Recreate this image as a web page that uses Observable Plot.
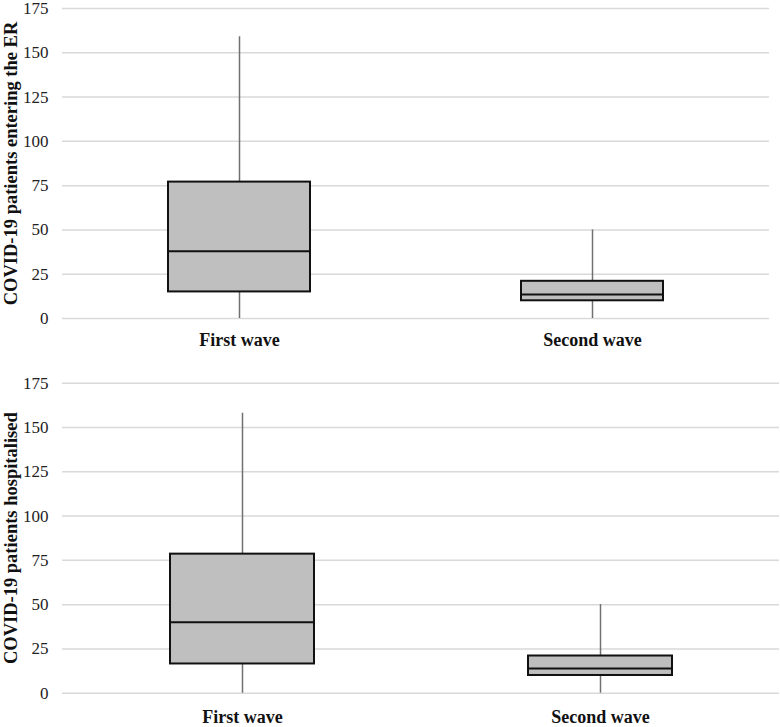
<!DOCTYPE html>
<html>
<head>
<meta charset="utf-8">
<script src="https://cdn.jsdelivr.net/npm/d3@7"></script>
<script src="https://cdn.jsdelivr.net/npm/@observablehq/plot@0.6"></script>
<style>
  html, body { margin: 0; padding: 0; background: #fff; }
  #chart svg { display: block; }
</style>
</head>
<body>
<div id="chart"></div>
<script>
const categories = ["First wave", "Second wave"];
const yTicks = [0, 25, 50, 75, 100, 125, 150, 175];

// Panel 1: COVID-19 patients entering the ER
const erMin = [0, 0];
const erQ1 = [15, 10];
const erMedian = [38, 13.5];
const erQ3 = [77, 21];
const erMax = [159, 50];

// Panel 2: COVID-19 patients hospitalised
const hospMin = [0, 0];
const hospQ1 = [16.5, 10];
const hospMedian = [40, 14];
const hospQ3 = [78.5, 21];
const hospMax = [158, 50];

const font = "'Liberation Serif', 'Times New Roman', serif";

function panel(label, mins, q1s, meds, q3s, maxs, opts) {
  const rows = categories.map((c, i) => ({
    cat: c, min: mins[i], q1: q1s[i], med: meds[i], q3: q3s[i], max: maxs[i]
  }));
  return Plot.plot({
    width: 780,
    height: opts.height,
    marginLeft: 62,
    marginRight: opts.marginRight,
    marginTop: opts.marginTop,
    marginBottom: opts.marginBottom,
    style: { fontFamily: font, background: "#fff", overflow: "visible" },
    x: { domain: categories, paddingInner: 0.598, paddingOuter: 0.299, label: null },
    y: { domain: [0, 175], label: null },
    marks: [
      Plot.ruleY(yTicks, { stroke: "#d9d9d9", strokeWidth: 1.5 }),
      Plot.axisY({ ticks: yTicks, tickSize: 0, tickPadding: 14, fontSize: 17, fill: "#222", label: null }),
      Plot.axisX({ tickSize: 0, tickPadding: opts.xPad, fontSize: 18, fontWeight: "bold", fill: "#111", label: null }),
      Plot.text([label], {
        frameAnchor: "left", dx: -51, rotate: -90, fontSize: 18.5, fontWeight: "bold", fill: "#111", textAnchor: "middle"
      }),
      Plot.ruleX(rows, { x: "cat", y1: "min", y2: "max", stroke: "#707070", strokeWidth: 1.5 }),
      Plot.barY(rows, { x: "cat", y1: "q1", y2: "q3", fill: "#bfbfbf", stroke: "#111", strokeWidth: 2 }),
      Plot.tickY(rows, { x: "cat", y: "med", stroke: "#111", strokeWidth: 2 })
    ]
  });
}

const el = document.getElementById("chart");
el.append(panel("COVID-19 patients entering the ER", erMin, erQ1, erMedian, erQ3, erMax,
  { height: 370, marginTop: 8, marginBottom: 52, marginRight: 11, xPad: 15 }));
el.append(panel("COVID-19 patients hospitalised", hospMin, hospQ1, hospMedian, hospQ3, hospMax,
  { height: 357, marginTop: 12.7, marginBottom: 34.3, marginRight: 1, xPad: 17 }));
</script>
</body>
</html>
